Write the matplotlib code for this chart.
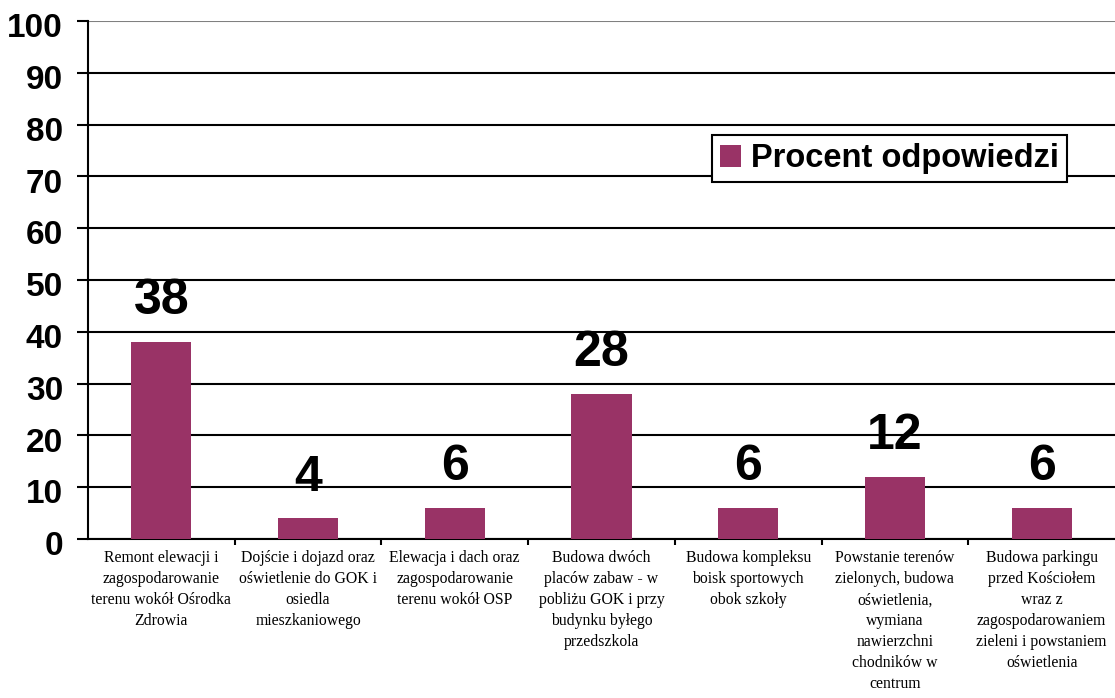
import matplotlib.pyplot as plt
import matplotlib.transforms as mtransforms
import numpy as np

categories = [
    "Remont elewacji i\nzagospodarowanie\nterenu wokół Ośrodka\nZdrowia",
    "Dojście i dojazd oraz\noświetlenie do GOK i\nosiedla\nmieszkaniowego",
    "Elewacja i dach oraz\nzagospodarowanie\nterenu wokół OSP",
    "Budowa dwóch\nplaców zabaw - w\npobliżu GOK i przy\nbudynku byłego\nprzedszkola",
    "Budowa kompleksu\nboisk sportowych\nobok szkoły",
    "Powstanie terenów\nzielonych, budowa\noświetlenia,\nwymiana\nnawierzchni\nchodników w\ncentrum",
    "Budowa parkingu\nprzed Kościołem\nwraz z\nzagospodarowaniem\nzieleni i powstaniem\noświetlenia",
]
values = [38, 4, 6, 28, 6, 12, 6]
yticks = [0, 10, 20, 30, 40, 50, 60, 70, 80, 90, 100]
series_name = "Procent odpowiedzi"

bar_color = "#993366"

fig = plt.figure(figsize=(11.15, 6.98), dpi=100)
ax = fig.add_axes([88 / 1115, 159 / 698, 1 - 88 / 1115, (539 - 21) / 698])

x = np.arange(len(values))
ax.bar(x, values, width=0.41, color=bar_color, label=series_name, zorder=3)

# value labels above bars
for xi, v in zip(x, values):
    ax.annotate(str(v), (xi, v), xytext=(0, 20), textcoords="offset points",
                ha="center", va="baseline", fontsize=36, fontweight="bold",
                family="Liberation Sans")

ax.set_xlim(-0.5, len(values) - 0.5)
ax.set_ylim(0, 100)
ax.set_yticks(yticks)
ax.set_yticklabels([str(t) for t in yticks], fontsize=24, fontweight="bold",
                   family="Liberation Sans")
ax.tick_params(axis="y", direction="out", length=8, width=1.5, pad=10)
shift = mtransforms.ScaledTranslation(0, -3 / 72, fig.dpi_scale_trans)
for lab in ax.get_yticklabels():
    lab.set_va("center_baseline")
    lab.set_transform(lab.get_transform() + shift)

ax.set_xticks(x)
ax.set_xticklabels(categories, fontsize=11.3, family="Liberation Serif",
                   linespacing=1.42, va="top")
ax.tick_params(axis="x", which="major", length=0, pad=8)
ax.set_xticks(x[:-1] + 0.5, minor=True)
ax.tick_params(axis="x", which="minor", direction="out", length=4, width=1.5)

ax.yaxis.grid(True, color="black", linewidth=1.5, zorder=0)
ax.set_axisbelow(True)
ax.yaxis.get_gridlines()[-1].set_color("#808080")

for s in ["top", "right"]:
    ax.spines[s].set_visible(False)
ax.spines["left"].set_linewidth(1.5)
ax.spines["bottom"].set_linewidth(1.5)

leg = ax.legend(loc="upper left", bbox_to_anchor=(712 / 1115, 1 - 135 / 698),
                bbox_transform=fig.transFigure, borderaxespad=0,
                prop={"family": "Liberation Sans", "weight": "bold", "size": 23.5},
                fancybox=False, framealpha=1, edgecolor="black",
                handlelength=0.65, handleheight=0.65, handletextpad=0.3,
                borderpad=0.25)
leg.get_frame().set_linewidth(1.5)

fig.savefig("out.png", dpi=100)
